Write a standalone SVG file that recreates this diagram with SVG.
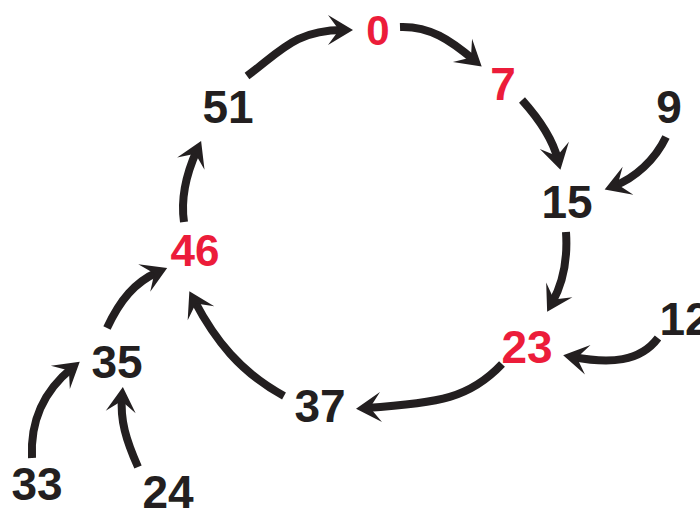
<svg xmlns="http://www.w3.org/2000/svg" width="700" height="510" viewBox="0 0 700 510">
  <defs>
    <marker id="head" markerUnits="userSpaceOnUse" viewBox="-17 -17 30 34" refX="0" refY="0" markerWidth="30" markerHeight="34" orient="auto" overflow="visible">
      <path d="M10,0 L-15,-15 L-4,0 L-15,15 Z" fill="#231f20"/>
    </marker>
  </defs>
  <style>
    .lbl { font-family: "Liberation Sans", Arial, sans-serif; font-weight: bold; font-size: 46px; text-anchor: middle; fill: #231f20; }
    .hot { fill: #ec1c3a; }
    .edge { fill: none; stroke: #231f20; stroke-width: 8; marker-end: url(#head); }
  </style>
  <rect width="700" height="510" fill="#ffffff"/>

  <g id="edges">
    <path class="edge" d="M247,76 C280,52 295,30 343,30"/>
    <path class="edge" d="M400,27 C430,26 450,40 474,60"/>
    <path class="edge" d="M522,100 C540,120 553,140 558,160"/>
    <path class="edge" d="M666,137 C655,160 635,178 614,186"/>
    <path class="edge" d="M566,232 C568,262 562,285 552,303"/>
    <path class="edge" d="M658,338 C640,362 610,364 573,357"/>
    <path class="edge" d="M502,364 C470,398 440,403 366,408"/>
    <path class="edge" d="M284,396 C240,372 215,340 194,300"/>
    <path class="edge" d="M184,222 C180,195 188,170 197,150"/>
    <path class="edge" d="M107,328 C120,300 135,282 158,272"/>
    <path class="edge" d="M32,458 C30,420 45,390 72,368"/>
    <path class="edge" d="M138,467 C126,440 120,420 122,397"/>
  </g>

  <g id="n0"><text class="lbl hot" x="378" y="45" style="font-size:42px">0</text></g>
  <g id="n7"><text class="lbl hot" x="503" y="100">7</text></g>
  <g id="n15"><text class="lbl" x="567" y="218">15</text></g>
  <g id="n9"><text class="lbl" x="669" y="123">9</text></g>
  <g id="n23"><text class="lbl hot" x="527" y="363">23</text></g>
  <g id="n12"><text class="lbl" x="685" y="335">12</text></g>
  <g id="n37"><text class="lbl" x="320" y="422">37</text></g>
  <g id="n46"><text class="lbl hot" x="195" y="266" style="font-size:44px">46</text></g>
  <g id="n51"><text class="lbl" x="228" y="123">51</text></g>
  <g id="n35"><text class="lbl" x="117" y="378">35</text></g>
  <g id="n33"><text class="lbl" x="37" y="500">33</text></g>
  <g id="n24"><text class="lbl" x="168" y="508">24</text></g>
</svg>
